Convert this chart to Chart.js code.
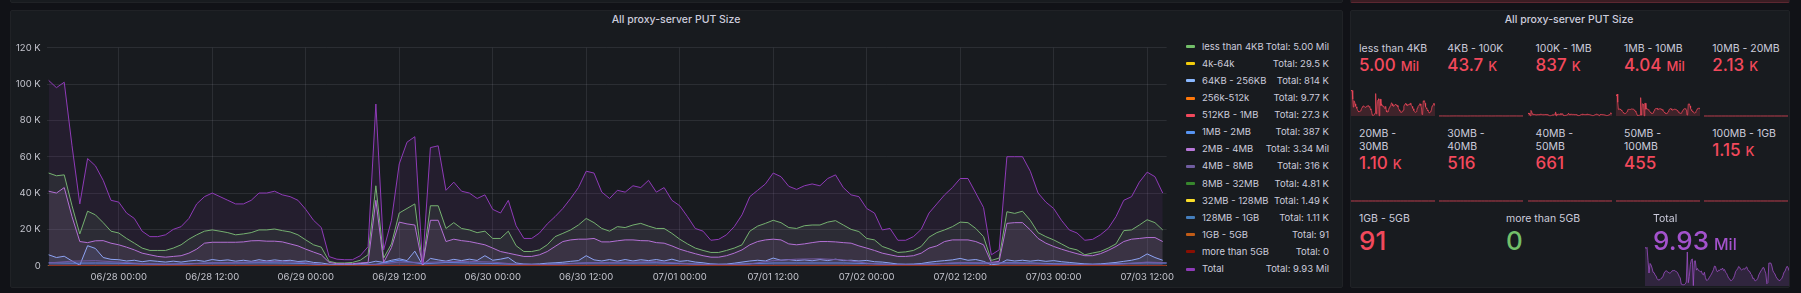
<!DOCTYPE html>
<html lang="en">
<head>
  <meta charset="UTF-8">
  <title>All proxy-server PUT Size</title>
  <script src="https://cdn.jsdelivr.net/npm/chart.js"></script>
  <style>
    body {
      margin: 0;
      width: 1801px;
      height: 293px;
      overflow: hidden;
      position: relative;
      background: #111217;
      font-family: Inter, 'Noto Sans', sans-serif;
      color: #ccccdc;
    }
    .panel {
      position: absolute;
      box-sizing: border-box;
      background: #181b1f;
      border: 1px solid #202226;
      border-radius: 2px;
    }
    .title {
      position: absolute;
      font-size: 10.5px;
      font-weight: 500;
      line-height: 1;
      white-space: nowrap;
      transform: translateX(-50%);
    }
    .legend-row {
      position: absolute;
      left: 1186px;
      width: 143px;
      height: 10px;
      font-size: 9.5px;
      line-height: 10px;
      white-space: nowrap;
    }
    .legend-row i {
      position: absolute;
      left: 0;
      top: 3.5px;
      width: 9px;
      height: 3px;
      border-radius: 1px;
    }
    .legend-row span { position: absolute; left: 16px; }
    .legend-row b { position: absolute; right: 0; font-weight: 400; }
    .stat { position: absolute; }
    .stat .lbl {
      font-size: 10.5px;
      line-height: 12.4px;
      width: 69px;
    }
    .stat.wide .lbl { width: auto; white-space: nowrap; }
    .stat .val {
      font-weight: 500;
      white-space: nowrap;
    }
    canvas { position: absolute; }
  </style>
</head>
<body>

<!-- edges of the panels above -->
<div class="panel" style="left:9.5px;top:-20px;width:1333px;height:22.5px;"></div>
<div class="panel" style="left:1349.5px;top:-20px;width:440.5px;height:22.5px;background:#3a1d23;border-bottom:1px solid #5c2731;"></div>

<!-- time series panel -->
<div class="panel" style="left:9.5px;top:9.5px;width:1333px;height:278px;"></div>
<div class="title" style="left:676px;top:15px;">All proxy-server PUT Size</div>
<canvas id="main" width="1170" height="250" style="left:10px;top:36px;"></canvas>
<div id="legend"></div>

<!-- stat panel -->
<div class="panel" style="left:1349.5px;top:9.5px;width:440.5px;height:278px;"></div>
<div class="title" style="left:1569px;top:15px;">All proxy-server PUT Size</div>
<div id="stats"></div>

<script>
  // hours are counted from 06/28 00:00
  const startHour = -9;
  const xMin = -9.25;
  const xMax = 134.5;
  const xTickHours = [0, 12, 24, 36, 48, 60, 72, 84, 96, 108, 120, 132];
  const xTickLabels = ['06/28 00:00', '06/28 12:00', '06/29 00:00', '06/29 12:00', '06/30 00:00', '06/30 12:00',
    '07/01 00:00', '07/01 12:00', '07/02 00:00', '07/02 12:00', '07/03 00:00', '07/03 12:00'];
  const yTickValues = [0, 20, 40, 60, 80, 100, 120];
  const yTickLabels = ['0', '20 K', '40 K', '60 K', '80 K', '100 K', '120 K'];

  // values in thousands, one per hour from startHour
  const lessThan4kb = [51, 49.5, 50, 33, 17.5, 30, 28, 23.7, 19, 18,
    15, 12.4, 9.7, 8.4, 8.4, 8.4, 9.7, 11.5, 14.6, 17,
    19, 19.7, 19, 18.2, 17, 17.5, 18.2, 19.7, 19.7, 20.2,
    19.3, 18.6, 17, 14.2, 11.5, 10.2, 2.4, 1.5, 1.5, 1.8,
    3, 6, 44, 4.2, 12, 29, 31.5, 34, 0.5, 33,
    33, 20.5, 23.7, 20.5, 19.7, 18.2, 19, 15, 15, 19,
    11, 7.8, 7.8, 8.7, 11.5, 16, 17.8, 19.7, 22.4, 26,
    23.7, 20.5, 19, 21.5, 21, 22.4, 23.3, 21.8, 20.5, 20.5,
    17.8, 14.6, 12, 9.7, 8.4, 7.3, 7.3, 8.4, 9.7, 11.5,
    19, 21.8, 23.3, 25, 23.7, 21, 20.5, 22, 22.4, 22.4,
    24, 24.8, 22.4, 20, 18.8, 15, 14.2, 10.6, 9.1, 7.3,
    7.6, 8.4, 10.6, 15.7, 18.2, 19.7, 21.5, 24, 23.7, 20.5,
    16, 2.9, 4.2, 29.7, 28.8, 30, 25, 18.2, 16, 14.2,
    12, 9.7, 8.7, 6, 7, 7.8, 9.7, 12, 19.3, 19.7,
    22.4, 25.3, 23.7, 19.7];
  const mb2to4 = [41, 40, 43, 27, 13.3, 12.7, 13.7, 13.8, 12.4, 11.5,
    10.2, 8.7, 6.9, 6, 5.1, 4.7, 5.1, 5.5, 6.9, 9.1,
    12.4, 12.9, 12.9, 12.9, 12.9, 13.1, 13.7, 13.8, 13.5, 13.5,
    13.1, 12, 10.9, 9.1, 7.5, 6, 1.8, 1.1, 1.1, 1.1,
    1.5, 1.8, 36, 1.8, 10, 24, 23, 22.4, 0.3, 25,
    25, 13.3, 14.6, 13.8, 13.3, 12.4, 11.5, 9.7, 7.8, 6.9,
    6, 5.1, 5.1, 6, 7.8, 10.6, 13.3, 14.2, 14.6, 14.6,
    15, 13.1, 13.1, 13.7, 14.2, 14.2, 13.8, 13.7, 12.7, 12.4,
    10.9, 9.1, 7.8, 6.6, 5.5, 4.7, 4.7, 5.5, 6.9, 8.7,
    11.5, 13.3, 14.2, 14.6, 14.2, 12, 11.5, 12, 12.7, 13.3,
    13.3, 13.1, 12.7, 12.4, 10.9, 9.7, 8.4, 6.9, 6, 5.1,
    5.1, 5.5, 6.9, 9.7, 10.9, 13.3, 14.2, 14.2, 14.2, 13.3,
    11.5, 1.8, 2.4, 23.3, 23.7, 23.7, 19.7, 15, 12.4, 10.6,
    9.1, 7.8, 6.6, 5.5, 5.5, 6.6, 8.4, 10.6, 13.3, 14.6,
    15, 15.5, 15.5, 13.3];
  const kb64to256 = [6, 4.5, 5.2, 2.6, 0.3, 11, 9.5, 4.5, 3.5, 3.3,
    2.6, 3, 2.2, 2.8, 2.4, 2, 2.5, 2, 2.6, 3,
    2.4, 3.4, 2.8, 3.2, 2.5, 3, 2.4, 3.3, 2.6, 3.2,
    2.7, 3, 2.3, 2.6, 1.8, 1.5, 0.8, 0.6, 0.7, 0.6,
    1.2, 1.5, 2.5, 1.8, 3, 3.8, 2.8, 8, 0.3, 4,
    3.2, 2.5, 3.5, 2.8, 3.6, 2.9, 5.5, 3, 3.6, 4.5,
    1.5, 0.9, 0.8, 1, 1.4, 1.6, 1.9, 2.4, 2.8, 5.5,
    3.2, 2.6, 3.4, 2.5, 3.4, 2.6, 3.3, 2.8, 3.4, 2.6,
    3.6, 2.4, 2.8, 2, 1.6, 1, 0.8, 0.9, 1.4, 2,
    2.6, 3, 2.6, 4.2, 3, 3.4, 2.8, 3.2, 2.7, 3.4,
    2.8, 3.6, 2.8, 3, 2.6, 2.9, 2.2, 2, 1.5, 0.9,
    0.8, 0.9, 1.2, 1.9, 2.4, 2.8, 3.2, 4, 3, 3.4,
    2.4, 0.5, 1, 3.2, 2.6, 3, 2.5, 3, 2.4, 2.8,
    2.2, 1.8, 1.4, 1, 0.8, 1, 1.4, 1.8, 2.4, 3,
    4, 6.5, 4.5, 3];
  const total = [102, 98, 101, 66, 34, 59, 55, 47, 36, 35,
    29, 26, 19, 16, 16, 17, 20, 21.5, 26, 34,
    38, 40, 38, 36, 34, 34, 36, 40, 40, 41,
    39, 38, 36, 31, 25, 21, 5, 3.6, 3.3, 3.3,
    5.5, 10.5, 89, 8.7, 25, 56, 68, 71, 1, 65,
    66, 41.5, 46, 41, 40, 37, 39, 31, 29, 36,
    22, 15, 15, 18, 23, 27, 31.5, 37, 43, 52,
    51, 40.5, 37, 41.5, 40.5, 44, 43, 47, 40.5, 43,
    36, 33, 27, 20.5, 19, 14, 14.5, 17, 21.5, 28,
    38, 41.5, 45, 51, 49, 43.7, 42, 44, 45, 44,
    48, 50, 43, 39, 38, 31.5, 29, 19.7, 20.5, 14,
    14, 16, 20, 29, 34, 39, 43, 48, 48, 40,
    32, 6, 8.7, 60, 60, 60, 52, 40, 35, 31.5,
    25, 19.7, 18, 14, 14.5, 17, 20.5, 27, 36, 38,
    46, 51.5, 49, 40];

  // one value every 3 hours from startHour
  const mb1to2 = [1.6, 1.4, 1.5, 1.4, 1.0, 0.8, 1.1, 1.5, 1.5, 1.6, 1.5, 1.2, 0.3, 0.3, 0.8, 3.0, 1.0,
    1.8, 1.5, 1.2, 0.8, 0.7, 1.1, 1.5, 1.5, 1.5, 1.6, 1.2, 0.8, 0.7, 1.1, 1.5, 1.5,
    1.5, 1.5, 1.2, 0.8, 0.7, 1.1, 1.5, 1.4, 1.6, 1.5, 1.1, 0.8, 0.8, 1.2, 1.6, 1.4];
  const mb4to8 = [1.5, 2.5, 2.8, 2.0, 1.2, 0.8, 1.0, 1.6, 1.8, 2.2, 2.4, 1.6, 0.4, 0.3, 0.6, 2.0, 1.8,
    2.2, 2.4, 2.0, 0.8, 0.6, 0.9, 1.6, 1.8, 2.0, 2.2, 1.4, 0.7, 0.6, 1.0, 2.8, 3.6,
    3.8, 3.2, 1.4, 0.6, 0.5, 1.0, 1.8, 1.6, 1.4, 1.2, 0.8, 0.5, 0.6, 1.0, 2.0, 1.5];

  // one value every 6 hours from startHour
  const kb4to64 = [0.12, 0.10, 0.06, 0.05, 0.11, 0.13, 0.10, 0.04, 0.03, 0.12, 0.11, 0.05, 0.11,
    0.12, 0.10, 0.05, 0.10, 0.13, 0.09, 0.05, 0.11, 0.12, 0.08, 0.04, 0.10];
  const kb256to512 = [0.04, 0.03, 0.02, 0.01, 0.03, 0.04, 0.03, 0.01, 0.01, 0.04, 0.03, 0.01, 0.03,
    0.04, 0.03, 0.01, 0.03, 0.04, 0.03, 0.01, 0.03, 0.04, 0.02, 0.01, 0.03];
  const kb512to1mb = [0.11, 0.09, 0.06, 0.03, 0.08, 0.10, 0.09, 0.03, 0.02, 0.10, 0.09, 0.03, 0.08,
    0.10, 0.09, 0.03, 0.08, 0.10, 0.08, 0.03, 0.08, 0.10, 0.07, 0.03, 0.08];
  const mb8to32 = [0.02, 0.02, 0.01, 0.01, 0.02, 0.02, 0.02, 0.01, 0, 0.02, 0.02, 0.01, 0.02,
    0.02, 0.02, 0.01, 0.02, 0.02, 0.01, 0.01, 0.02, 0.02, 0.01, 0.01, 0.02];
  const mb32to128 = [0.006, 0.005, 0.003, 0.002, 0.005, 0.006, 0.005, 0.002, 0.001, 0.006, 0.005, 0.002, 0.005,
    0.006, 0.005, 0.002, 0.005, 0.006, 0.004, 0.002, 0.005, 0.006, 0.004, 0.002, 0.005];
  const mb128to1gb = [0.005, 0.004, 0.002, 0.001, 0.004, 0.005, 0.004, 0.001, 0.001, 0.005, 0.004, 0.002, 0.004,
    0.005, 0.004, 0.001, 0.004, 0.005, 0.003, 0.001, 0.004, 0.005, 0.003, 0.001, 0.004];
  const gb1to5 = [0, 0.001, 0, 0, 0, 0.001, 0, 0, 0, 0.001, 0, 0, 0,
    0.001, 0, 0, 0, 0.001, 0, 0, 0, 0.001, 0, 0, 0];
  const moreThan5gb = [0, 0, 0, 0, 0, 0, 0, 0, 0, 0, 0, 0, 0, 0, 0, 0, 0, 0, 0, 0, 0, 0, 0, 0, 0];

  const seriesNames = ['less than 4KB', '4k-64k', '64KB - 256KB', '256k-512k', '512KB - 1MB', '1MB - 2MB',
    '2MB - 4MB', '4MB - 8MB', '8MB - 32MB', '32MB - 128MB', '128MB - 1GB', '1GB - 5GB', 'more than 5GB', 'Total'];
  const seriesColors = ['#73BF69', '#F2CC0C', '#8AB8FF', '#FF780A', '#F2495C', '#5794F2',
    '#B877D9', '#705DA0', '#37872D', '#FADE2A', '#447EBC', '#C15C17', '#890F02', '#8F3BB8'];
  const seriesTotals = ['5.00 Mil', '29.5 K', '814 K', '9.77 K', '27.3 K', '387 K',
    '3.34 Mil', '316 K', '4.81 K', '1.49 K', '1.11 K', '91', '0', '9.93 Mil'];
  const seriesValues = [lessThan4kb, kb4to64, kb64to256, kb256to512, kb512to1mb, mb1to2,
    mb2to4, mb4to8, mb8to32, mb32to128, mb128to1gb, gb1to5, moreThan5gb, total];
  const seriesStep = [1, 6, 1, 6, 6, 3, 1, 3, 6, 6, 6, 6, 6, 1];

  // stat panel
  const statNames = ['less than 4KB', '4KB - 100K', '100K - 1MB', '1MB - 10MB', '10MB - 20MB',
    '20MB - 30MB', '30MB - 40MB', '40MB - 50MB', '50MB - 100MB', '100MB - 1GB',
    '1GB - 5GB', 'more than 5GB', 'Total'];
  const statNumbers = ['5.00', '43.7', '837', '4.04', '2.13', '1.10', '516', '661', '455', '1.15', '91', '0', '9.93'];
  const statUnits = ['Mil', 'K', 'K', 'Mil', 'K', 'K', '', '', '', 'K', '', '', 'Mil'];
  const statColors = ['#F2495C', '#F2495C', '#F2495C', '#F2495C', '#F2495C', '#F2495C', '#F2495C',
    '#F2495C', '#F2495C', '#F2495C', '#F2495C', '#73BF69', '#A352CC'];
  // which series each sparkline shows (index into the series lists)
  const statSpark = [0, 1, 2, 6, 8, 9, 9, 9, 9, 10, null, null, 13];

  function rgba(hex, a) {
    const n = parseInt(hex.slice(1), 16);
    return 'rgba(' + (n >> 16) + ',' + ((n >> 8) & 255) + ',' + (n & 255) + ',' + a + ')';
  }

  function points(values, step) {
    return values.map((v, i) => ({ x: startHour + i * step, y: v }));
  }

  const axisFont = { family: 'Inter', size: 9.5 };
  const gridColor = 'rgba(204,204,220,0.11)';
  const tickColor = '#c4c5ce';

  new Chart(document.getElementById('main'), {
    type: 'line',
    data: {
      datasets: seriesNames.map((name, i) => ({
        label: name,
        data: points(seriesValues[i], seriesStep[i]),
        borderColor: seriesColors[i],
        backgroundColor: rgba(seriesColors[i], 0.1),
        borderWidth: 1,
        fill: 'origin',
        order: seriesNames.length - i
      }))
    },
    options: {
      responsive: false,
      animation: false,
      devicePixelRatio: 1,
      layout: { padding: { top: 10.3, right: 5, left: 0, bottom: 0 } },
      plugins: { legend: { display: false }, tooltip: { enabled: false } },
      elements: { point: { radius: 0 }, line: { tension: 0 } },
      scales: {
        x: {
          type: 'linear',
          min: xMin,
          max: xMax,
          border: { display: false },
          grid: { color: gridColor, drawTicks: false },
          ticks: {
            color: tickColor, font: axisFont, padding: 6, autoSkip: false, maxRotation: 0,
            callback: (v, i) => xTickLabels[i]
          },
          afterBuildTicks: s => { s.ticks = xTickHours.map(v => ({ value: v })); },
          afterFit: s => { s.height = 20.3; }
        },
        y: {
          min: 0,
          max: 120,
          border: { display: false },
          grid: { color: gridColor, drawTicks: false },
          ticks: { color: tickColor, font: axisFont, padding: 6, callback: (v, i) => yTickLabels[i] },
          afterBuildTicks: s => { s.ticks = yTickValues.map(v => ({ value: v })); },
          afterFit: s => { s.width = 36.7; }
        }
      }
    }
  });

  // legend with totals
  const legend = document.getElementById('legend');
  seriesNames.forEach((name, i) => {
    const row = document.createElement('div');
    row.className = 'legend-row';
    row.style.top = (46.7 + i * 17.1 - 5) + 'px';
    row.innerHTML = '<i style="background:' + seriesColors[i] + '"></i><span>' + name +
      '</span><b>Total: ' + seriesTotals[i] + '</b>';
    legend.appendChild(row);
  });

  // stat cells
  const stats = document.getElementById('stats');
  const smallLefts = [1351, 1439.3, 1527.6, 1616, 1704.3];
  const bigLefts = [1351, 1498, 1645];
  const sparkMax = Math.max(...lessThan4kb, ...mb2to4);

  function sparkline(left, top, width, height, idx, max, color) {
    const c = document.createElement('canvas');
    c.width = width;
    c.height = height;
    c.style.left = left + 'px';
    c.style.top = top + 'px';
    stats.appendChild(c);
    new Chart(c, {
      type: 'line',
      data: {
        datasets: [{
          data: points(seriesValues[idx], seriesStep[idx]),
          borderColor: rgba(color, 0.75),
          backgroundColor: rgba(color, 0.18),
          borderWidth: 1,
          fill: 'origin',
          clip: 3
        }]
      },
      options: {
        responsive: false,
        animation: false,
        devicePixelRatio: 1,
        layout: { padding: { bottom: 1 } },
        plugins: { legend: { display: false }, tooltip: { enabled: false } },
        elements: { point: { radius: 0 }, line: { tension: 0 } },
        scales: {
          x: { type: 'linear', display: false, min: startHour, max: 134 },
          y: { display: false, min: 0, max: max }
        }
      }
    });
  }

  statNames.forEach((name, i) => {
    let left, top, numSize, unitSize, gap;
    if (i < 10) {
      left = smallLefts[i % 5];
      top = i < 5 ? 43.1 : 128.1;
      numSize = 17; unitSize = 13; gap = 1.8;
    } else {
      left = bigLefts[i - 10];
      top = 213.1;
      numSize = 26; unitSize = 16; gap = 2;
    }
    if (statSpark[i] !== null) {
      if (i < 5) sparkline(left, 90, 84.5, 27, statSpark[i], sparkMax, statColors[i]);
      else if (i < 10) sparkline(left, 175, 84.5, 27, statSpark[i], sparkMax, statColors[i]);
      else sparkline(left, 247, 144, 40, statSpark[i], Math.max(...total), statColors[i]);
    }
    const cell = document.createElement('div');
    cell.className = i < 10 ? 'stat' : 'stat wide';
    cell.style.left = (left + 8) + 'px';
    cell.style.top = top + 'px';
    const unit = statUnits[i] ? '<span style="font-size:' + unitSize + 'px;margin-left:5px">' + statUnits[i] + '</span>' : '';
    cell.innerHTML = '<div class="lbl">' + name + '</div>' +
      '<div class="val" style="color:' + statColors[i] + ';font-size:' + numSize + 'px;line-height:' + numSize +
      'px;margin-top:' + gap + 'px">' + statNumbers[i] + unit + '</div>';
    stats.appendChild(cell);
  });
</script>

</body>
</html>
